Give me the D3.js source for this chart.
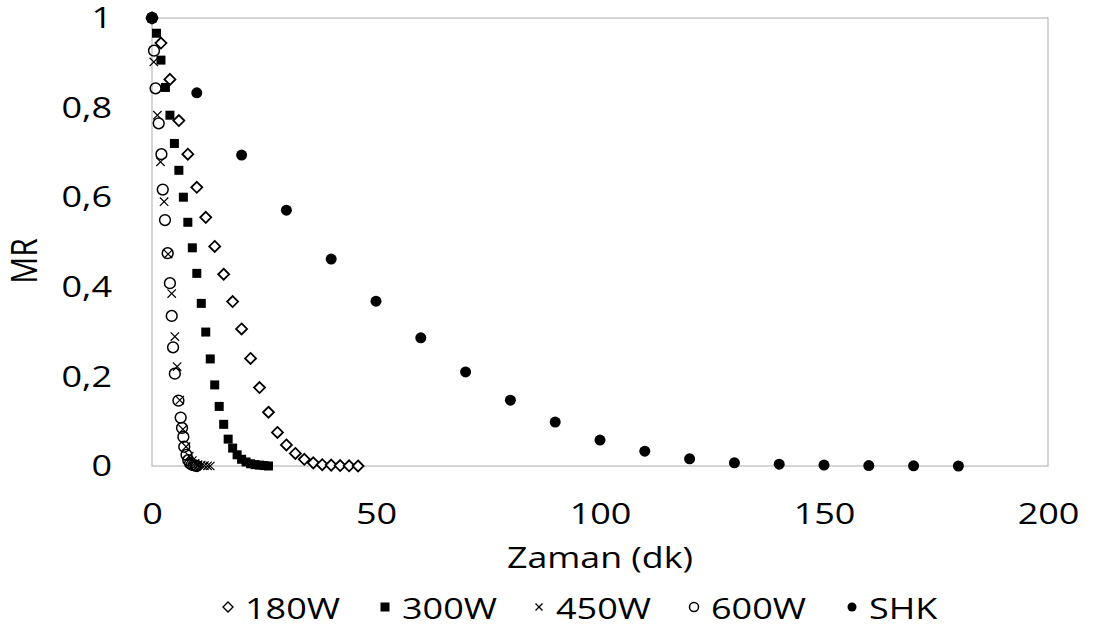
<!DOCTYPE html>
<html><head><meta charset="utf-8">
<script src="https://cdn.jsdelivr.net/npm/d3@7"></script>
<style>
html,body{margin:0;padding:0;background:#fff;}
svg text{font-family:"Open Sans",sans-serif;fill:#000;}
</style></head>
<body>
<svg id="chart" width="1095" height="633"></svg>
<script>
// ---- data ----
const xTicks = [0, 50, 100, 150, 200];
const yTicks = [0, 0.2, 0.4, 0.6, 0.8, 1];
const seriesNames = ["180W", "300W", "450W", "600W", "SHK"];

const t180 = [0,2,4,6,8,10,12,14,16,18,20,22,24,26,28,30,32,34,36,38,40,42,44,46];
const mr180 = [1,0.944,0.863,0.771,0.696,0.622,0.555,0.49,0.428,0.367,0.306,0.24,0.175,0.12,0.075,0.047,0.028,0.015,0.007,0.003,0.002,0.001,0.0005,0];

const t300 = [0,1,2,3,4,5,6,7,8,9,10,11,12,13,14,15,16,17,18,19,20,21,22,23,24,25,26];
const mr300 = [1,0.966,0.906,0.845,0.783,0.72,0.66,0.6,0.544,0.487,0.43,0.363,0.299,0.239,0.181,0.133,0.093,0.06,0.04,0.025,0.015,0.009,0.005,0.003,0.002,0.001,0];

const t450 = [0,0.4,1.2,1.9,2.7,3.6,4.4,5.1,5.6,6.2,6.9,7.6,8.3,9.0,9.6,10.3,11.0,11.7,12.4,13];
const mr450 = [1,0.902,0.783,0.679,0.59,0.473,0.385,0.289,0.222,0.147,0.082,0.043,0.022,0.012,0.006,0.003,0.002,0.001,0.0005,0];

const t600 = [0,0.45,0.8,1.5,2.1,2.4,2.9,3.5,4.0,4.4,4.7,5.1,5.9,6.4,6.7,7.0,7.2,7.7,8.1,8.5,8.9,9.3,9.7,10];
const mr600 = [1,0.927,0.843,0.765,0.696,0.617,0.549,0.475,0.408,0.335,0.265,0.206,0.146,0.108,0.085,0.065,0.043,0.025,0.013,0.006,0.003,0.002,0.001,0];

const tSHK = [0,10,20,30,40,50,60,70,80,90,100,110,120,130,140,150,160,170,180];
const mrSHK = [1,0.833,0.694,0.571,0.462,0.368,0.286,0.21,0.147,0.098,0.058,0.033,0.016,0.007,0.004,0.002,0.001,0.0005,0];

// ---- layout ----
const svg = d3.select("#chart");
const L = 152, R = 1048, T = 18, B = 466;
const FS = "30px";
const x = d3.scaleLinear().domain([0, 200]).range([L, R]);
const y = d3.scaleLinear().domain([0, 1]).range([B, T]);

// stretch a text horizontally by a factor
function stretch(sel, f) {
  sel.each(function () {
    const w = this.getComputedTextLength();
    d3.select(this).attr("textLength", w * f).attr("lengthAdjust", "spacingAndGlyphs");
  });
}

// plot border
svg.append("rect").attr("x", L).attr("y", T).attr("width", R - L).attr("height", B - T)
  .attr("fill", "none").attr("stroke", "#bfbfbf").attr("stroke-width", 1.3);

// axes
const fmt = d => String(d).replace(".", ",");
const xAxis = svg.append("g").attr("transform", `translate(0,${B})`)
  .call(d3.axisBottom(x).tickValues(xTicks).tickSize(0).tickFormat(fmt));
const yAxis = svg.append("g").attr("transform", `translate(${L},0)`)
  .call(d3.axisLeft(y).tickValues(yTicks).tickSize(0).tickPadding(40).tickFormat(fmt));
[xAxis, yAxis].forEach(g => {
  g.select(".domain").remove();
  g.selectAll("text").style("font-family", '"Open Sans",sans-serif').style("font-size", FS).attr("fill", "#000");
});
xAxis.selectAll("text").attr("y", 58).attr("dy", "0");
stretch(xAxis.selectAll("text"), 1.2);
stretch(yAxis.selectAll("text"), 1.2);

// axis titles
const xt = svg.append("text").attr("x", x(100)).attr("y", 568).attr("text-anchor", "middle")
  .style("font-size", FS).text("Zaman (dk)");
stretch(xt, 1.19);
svg.append("text").attr("transform", "translate(37,261) scale(1.2,1) rotate(-90)").attr("text-anchor", "middle")
  .style("font-size", FS).text("MR");

// marker drawers
function drawMarker(g, type, cx, cy, s) {
  if (type === "diamond") {
    g.append("path").attr("d", `M${cx},${cy - s}L${cx + s},${cy}L${cx},${cy + s}L${cx - s},${cy}Z`)
      .attr("fill", "#fff").attr("stroke", "#000").attr("stroke-width", 1.8);
  } else if (type === "square") {
    g.append("rect").attr("x", cx - s).attr("y", cy - s).attr("width", 2 * s).attr("height", 2 * s).attr("fill", "#000");
  } else if (type === "cross") {
    g.append("path").attr("d", `M${cx - s},${cy - s}L${cx + s},${cy + s}M${cx - s},${cy + s}L${cx + s},${cy - s}`)
      .attr("stroke", "#000").attr("stroke-width", 1.2).attr("fill", "none");
  } else if (type === "ocircle") {
    g.append("circle").attr("cx", cx).attr("cy", cy).attr("r", s)
      .attr("fill", "none").attr("stroke", "#000").attr("stroke-width", 1.5);
  } else if (type === "dot") {
    g.append("circle").attr("cx", cx).attr("cy", cy).attr("r", s).attr("fill", "#000");
  }
}

const series = [
  {name: seriesNames[0], t: t180, v: mr180, type: "diamond", s: 5.5, ls: 5},
  {name: seriesNames[1], t: t300, v: mr300, type: "square", s: 4.5, ls: 4.5},
  {name: seriesNames[2], t: t450, v: mr450, type: "cross", s: 4.2, ls: 3.5},
  {name: seriesNames[3], t: t600, v: mr600, type: "ocircle", s: 5.4, ls: 4.5},
  {name: seriesNames[4], t: tSHK, v: mrSHK, type: "dot", s: 5.5, ls: 4.5}
];

series.forEach(sr => {
  const g = svg.append("g");
  sr.t.forEach((tv, i) => drawMarker(g, sr.type, x(tv), y(sr.v[i]), sr.s));
});

// legend
const legendX = [228, 385, 539, 694, 852];
const leg = svg.append("g");
series.forEach((sr, i) => {
  drawMarker(leg, sr.type, legendX[i], 607, sr.ls);
  const tx = leg.append("text").attr("x", legendX[i] + 17).attr("y", 619).style("font-size", FS).text(sr.name);
  stretch(tx, 1.2);
});
leg.selectAll("path").attr("stroke-width", 1.4);
</script>
</body></html>
